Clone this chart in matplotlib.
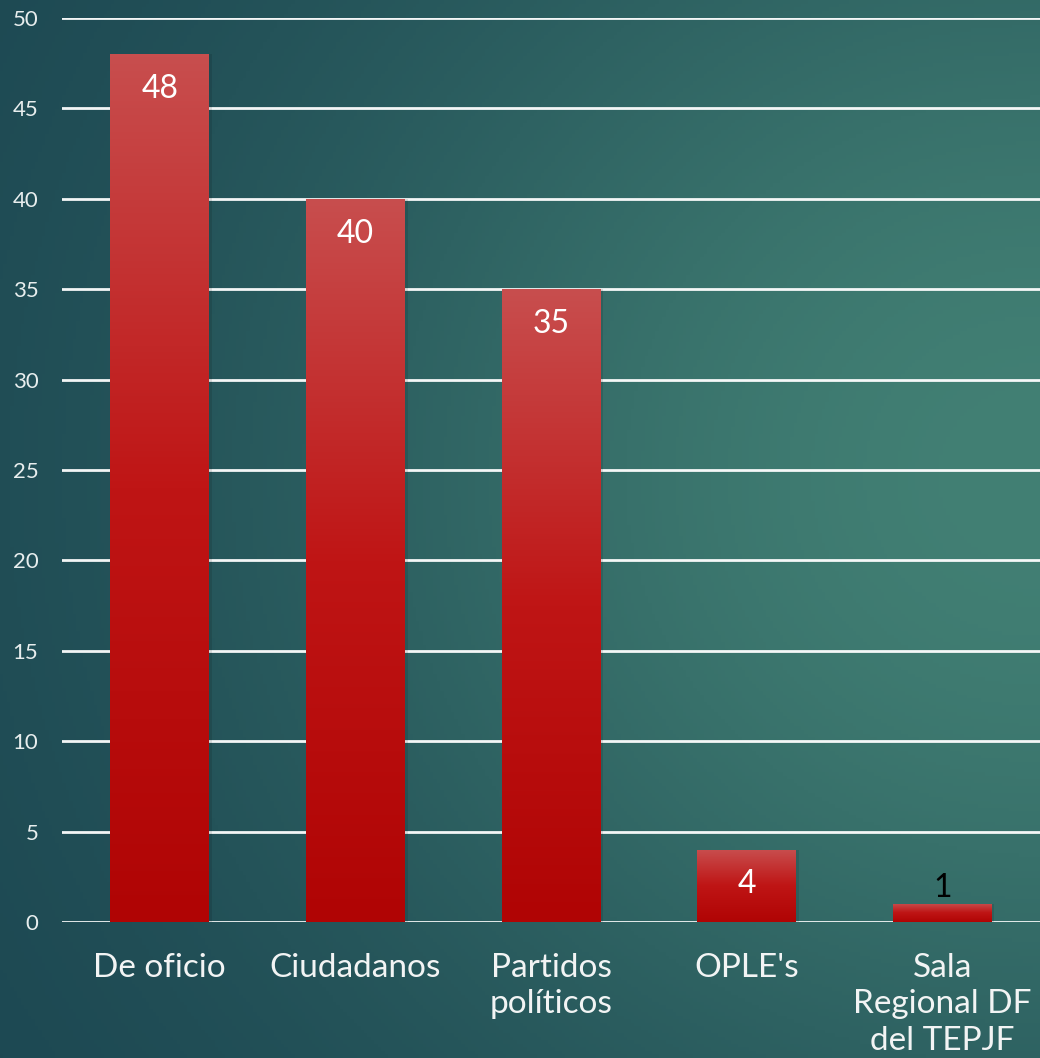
import numpy as np
import matplotlib
matplotlib.use('Agg')
import matplotlib.pyplot as plt
from matplotlib.colors import LinearSegmentedColormap

categories = ['De oficio', 'Ciudadanos', 'Partidos\npolíticos', "OPLE's", 'Sala\nRegional DF\ndel TEPJF']
values = [48, 40, 35, 4, 1]
yticks = [0, 5, 10, 15, 20, 25, 30, 35, 40, 45, 50]

plt.rcParams['font.family'] = ['Lato', 'DejaVu Sans']

fig = plt.figure(figsize=(10.4, 10.58), dpi=100)

# background gradient
bg = fig.add_axes([0, 0, 1, 1])
gx, gy = np.meshgrid(np.linspace(0, 1, 300), np.linspace(1, 0, 300))
t = np.exp(-((gx - 1.0) ** 2 / 0.55 + (gy - 0.55) ** 2 / 0.45))
dark = np.array([0x1a, 0x44, 0x50]) / 255
light = np.array([0x42, 0x80, 0x74]) / 255
img = dark[None, None, :] + (light - dark)[None, None, :] * t[:, :, None]
bg.imshow(img, extent=[0, 1, 0, 1], aspect='auto', origin='upper')
bg.axis('off')

ax = fig.add_axes([62 / 1040, 136 / 1058, 978 / 1040, 904 / 1058])
ax.patch.set_alpha(0)
x = np.arange(len(categories))
bars = ax.bar(x, values, width=0.506, color='none', zorder=3)

bar_cmap = LinearSegmentedColormap.from_list(
    'redgrad', [(0, '#b00404'), (0.5, '#bf1515'), (1, '#c84e4e')])
grad = np.linspace(0, 1, 256).reshape(-1, 1)
for b in bars:
    x0, y0 = b.get_x(), b.get_y()
    w, h = b.get_width(), b.get_height()
    # soft shadow
    ax.bar(x0 + w / 2 + 0.008, h, width=w + 0.012, color='black', alpha=0.1, zorder=2)
    im = ax.imshow(grad, extent=[x0, x0 + w, y0, y0 + h], origin='lower',
                   cmap=bar_cmap, aspect='auto', zorder=3)
    im.set_clip_path(b)

for xi, v in zip(x, values):
    if v >= 4:
        ax.annotate(str(v), (xi, v), xytext=(0, -25), textcoords='offset points',
                    ha='center', va='center', color='white', fontsize=23, zorder=5)
    else:
        ax.annotate(str(v), (xi, v), xytext=(0, 1), textcoords='offset points',
                    ha='center', va='bottom', color='black', fontsize=23, zorder=5)

ax.set_xlim(-0.5, len(categories) - 0.5)
ax.set_ylim(0, 50)
ax.set_yticks(yticks)
ax.set_xticks(x)
ax.set_xticklabels(categories, linespacing=1.28)
ax.tick_params(axis='x', length=0, pad=22, labelsize=24, colors='#f2f4f4')
ax.tick_params(axis='y', length=0, pad=17, labelsize=16, colors='#e8eeee')
ax.grid(axis='y', color='white', linewidth=2, alpha=0.95, zorder=1)
ax.set_axisbelow(True)
for s in ax.spines.values():
    s.set_visible(False)

fig.savefig('out.png', dpi=100)
